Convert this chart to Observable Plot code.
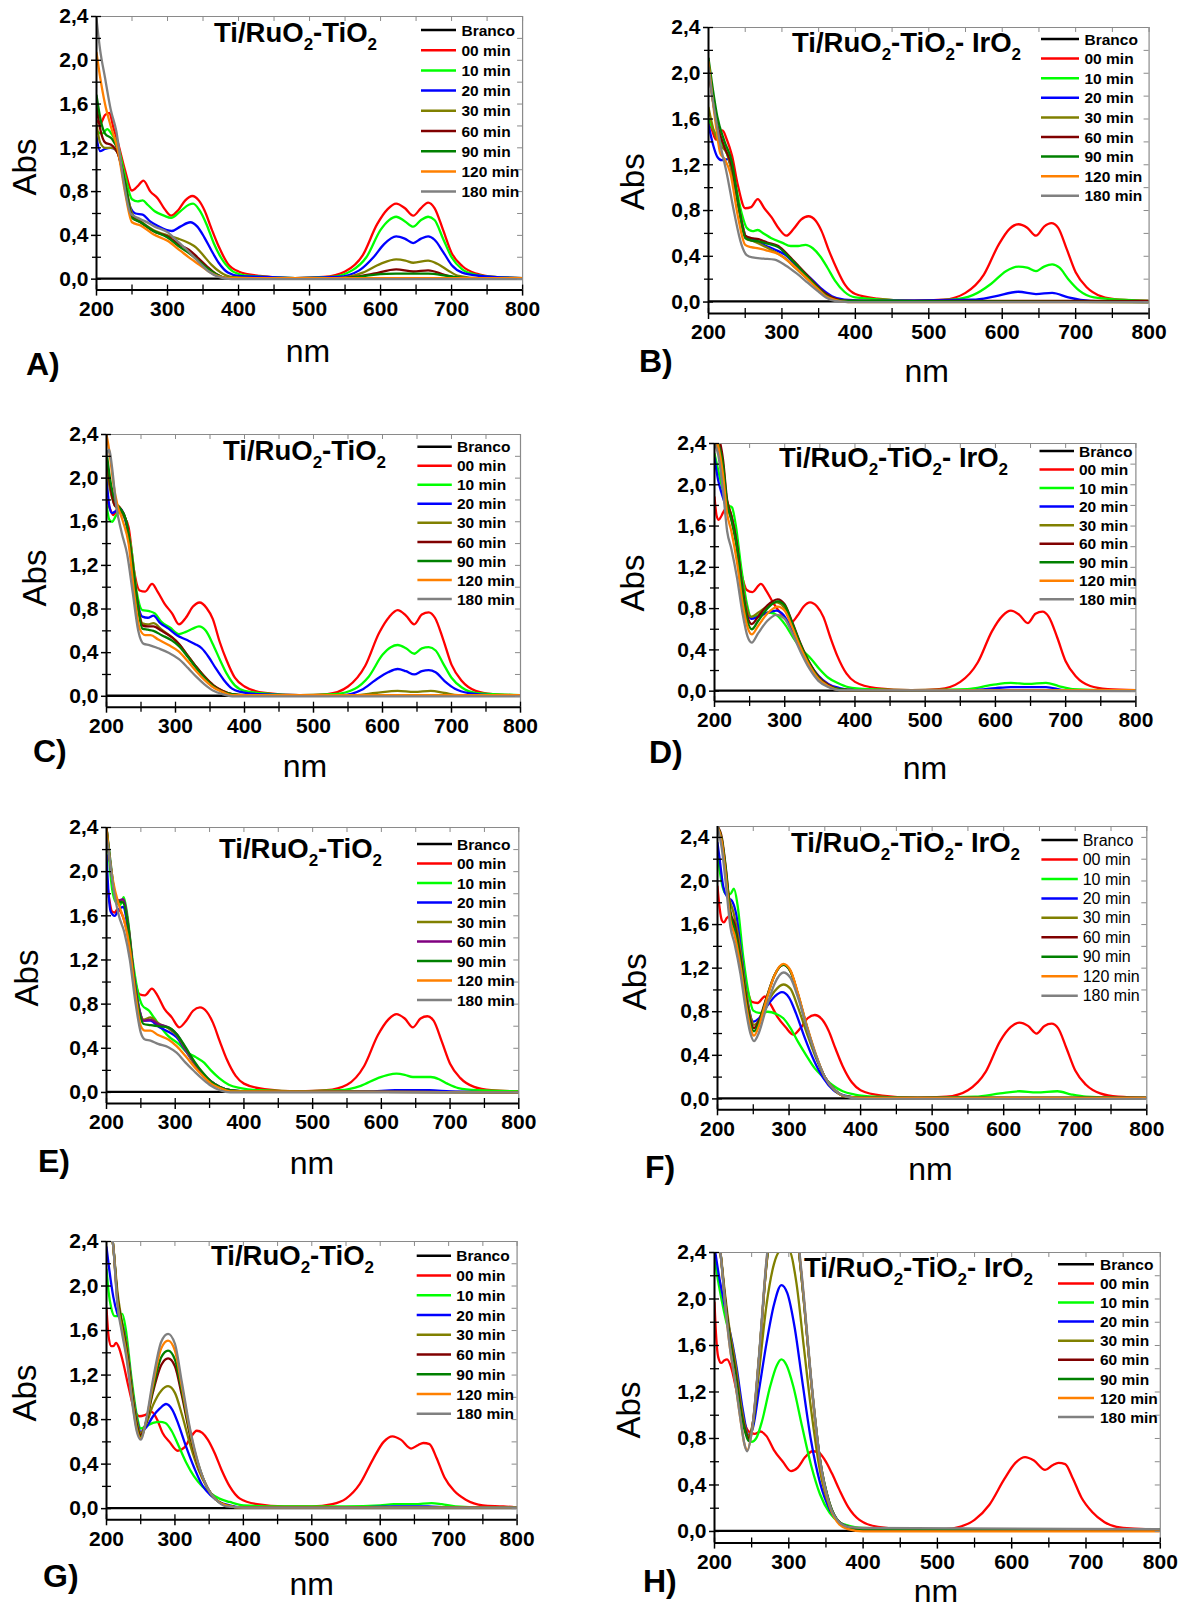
<!DOCTYPE html>
<html><head><meta charset="utf-8">
<script src="https://cdn.jsdelivr.net/npm/d3@7"></script>
<script src="https://cdn.jsdelivr.net/npm/@observablehq/plot@0.6"></script>
<style>
body{margin:0;background:#fff;}
#fig{position:relative;width:1189px;height:1607px;background:#fff;overflow:hidden;font-family:"Liberation Sans",Arial,sans-serif;}
#fig svg.panel{position:absolute;}
#overlay{position:absolute;left:0;top:0;}
</style></head><body><div id="fig"></div>
<script>
// ---------- labels ----------
const SERIES = ["Branco","00 min","10 min","20 min","30 min","60 min","90 min","120 min","180 min"];
const X_MAJOR = [200,300,400,500,600,700,800];
const X_MINOR = [250,350,450,550,650,750];
const Y_MAJOR = [0,0.4,0.8,1.2,1.6,2.0,2.4];
const Y_MINOR = [0.2,0.6,1.0,1.4,1.8,2.2];
const TITLE_1 = [["Ti/RuO",0],["2",1],["-TiO",0],["2",1]];
const TITLE_2 = [["Ti/RuO",0],["2",1],["-TiO",0],["2",1],["- IrO",0],["2",1]];

// ---------- data: [nm, Abs] ----------
const BRANCO = [[200,0.005],[800,0.005]];

const A00 = [[200,1.45],[205,1.42],[212,1.5],[218,1.52],[224,1.38],[230,1.25],[240,1.0],[250,0.81],[258,0.85],[266,0.9],[276,0.8],[286,0.74],[296,0.64],[305,0.58],[315,0.63],[325,0.72],[335,0.76],[344,0.72],[352,0.63],[362,0.46],[372,0.3],[385,0.14],[400,0.07],[430,0.03],[480,0.01],[520,0.02],[550,0.07],[575,0.22],[595,0.5],[610,0.64],[622,0.69],[634,0.65],[646,0.58],[657,0.65],[667,0.7],[676,0.65],[688,0.45],[700,0.24],[715,0.12],[735,0.05],[760,0.02],[800,0.01]];
const A10 = [[200,1.35],[208,1.33],[215,1.37],[222,1.32],[230,1.22],[240,0.95],[250,0.73],[258,0.71],[265,0.72],[272,0.68],[282,0.62],[295,0.58],[305,0.56],[318,0.62],[330,0.68],[336,0.69],[345,0.63],[355,0.5],[365,0.33],[375,0.2],[390,0.08],[405,0.04],[440,0.02],[480,0.01],[530,0.02],[560,0.08],[580,0.2],[600,0.45],[612,0.54],[622,0.57],[634,0.53],[646,0.48],[657,0.54],[667,0.57],[676,0.54],[688,0.37],[700,0.2],[715,0.09],[735,0.04],[760,0.02],[800,0.01]];
const A20 = [[200,1.3],[205,1.17],[212,1.19],[220,1.2],[228,1.18],[238,0.95],[248,0.65],[255,0.6],[265,0.59],[275,0.53],[288,0.48],[298,0.45],[306,0.44],[318,0.48],[332,0.52],[342,0.48],[352,0.38],[362,0.26],[372,0.15],[385,0.06],[400,0.03],[440,0.02],[480,0.01],[540,0.02],[570,0.08],[590,0.2],[605,0.32],[622,0.39],[634,0.37],[646,0.33],[657,0.37],[667,0.39],[676,0.36],[688,0.25],[700,0.13],[715,0.06],[740,0.03],[800,0.01]];
const A30 = [[200,1.42],[205,1.25],[212,1.2],[222,1.2],[230,1.15],[240,0.9],[250,0.6],[262,0.53],[280,0.45],[300,0.4],[315,0.37],[330,0.33],[340,0.29],[350,0.22],[362,0.13],[375,0.06],[390,0.02],[420,0.01],[540,0.01],[575,0.06],[600,0.14],[622,0.18],[635,0.17],[646,0.15],[667,0.17],[680,0.14],[695,0.08],[710,0.03],[740,0.01],[800,0.01]];
const A60 = [[200,1.58],[206,1.35],[212,1.25],[222,1.22],[230,1.15],[240,0.88],[250,0.57],[262,0.52],[280,0.44],[300,0.39],[318,0.31],[330,0.27],[342,0.2],[355,0.12],[368,0.05],[385,0.01],[550,0.01],[590,0.05],[622,0.09],[646,0.07],[667,0.08],[690,0.04],[710,0.01],[800,0.01]];
const A90 = [[200,1.68],[206,1.45],[212,1.33],[222,1.28],[230,1.18],[240,0.88],[250,0.56],[262,0.52],[280,0.44],[300,0.38],[318,0.29],[332,0.23],[345,0.16],[358,0.09],[370,0.04],[385,0.01],[550,0.01],[590,0.04],[622,0.05],[667,0.05],[695,0.03],[720,0.01],[800,0.01]];
const A120 = [[200,2.07],[205,1.85],[212,1.6],[220,1.4],[230,1.18],[240,0.8],[250,0.52],[262,0.49],[280,0.41],[300,0.35],[318,0.26],[332,0.19],[345,0.13],[358,0.07],[370,0.03],[385,0.01],[800,0.01]];
const A180 = [[200,2.38],[205,2.1],[212,1.84],[220,1.55],[228,1.35],[238,0.9],[248,0.6],[258,0.56],[268,0.53],[282,0.48],[300,0.43],[315,0.34],[330,0.25],[345,0.15],[358,0.07],[372,0.02],[390,0.0],[800,0.0]];

const B00 = [[200,1.6],[205,1.5],[210,1.42],[215,1.48],[219,1.5],[225,1.42],[232,1.28],[240,1.02],[250,0.82],[258,0.83],[267,0.9],[276,0.82],[286,0.74],[296,0.64],[306,0.58],[316,0.64],[326,0.72],[336,0.75],[346,0.71],[354,0.62],[364,0.45],[374,0.3],[386,0.15],[400,0.07],[430,0.03],[480,0.01],[520,0.02],[550,0.08],[575,0.24],[595,0.5],[610,0.64],[622,0.68],[634,0.65],[646,0.58],[657,0.66],[667,0.69],[676,0.65],[688,0.46],[700,0.26],[715,0.13],[735,0.05],[760,0.02],[800,0.01]];
const B10 = [[200,1.6],[207,1.5],[215,1.42],[225,1.3],[235,1.08],[245,0.78],[252,0.65],[260,0.62],[267,0.63],[275,0.6],[285,0.56],[300,0.52],[312,0.49],[322,0.49],[332,0.5],[342,0.47],[352,0.4],[362,0.3],[372,0.19],[385,0.09],[400,0.04],[440,0.02],[480,0.01],[530,0.02],[560,0.06],[585,0.16],[605,0.27],[622,0.31],[634,0.3],[646,0.27],[657,0.31],[668,0.33],[678,0.3],[690,0.2],[705,0.1],[725,0.04],[760,0.02],[800,0.01]];
const B20 = [[200,1.55],[206,1.38],[212,1.27],[218,1.24],[226,1.25],[236,1.0],[246,0.68],[252,0.56],[262,0.55],[275,0.5],[290,0.46],[305,0.41],[318,0.33],[330,0.26],[342,0.19],[355,0.11],[368,0.05],[385,0.02],[420,0.01],[560,0.02],[590,0.05],[622,0.09],[646,0.07],[668,0.08],[690,0.04],[720,0.01],[800,0.0]];
const B30 = [[200,1.7],[207,1.5],[215,1.38],[225,1.3],[236,1.02],[246,0.68],[252,0.55],[262,0.53],[275,0.49],[290,0.44],[305,0.38],[318,0.3],[330,0.23],[342,0.16],[355,0.09],[368,0.04],[385,0.01],[800,0.0]];
const B60 = [[200,2.05],[205,1.8],[212,1.55],[222,1.35],[232,1.18],[242,0.8],[250,0.58],[258,0.56],[268,0.55],[280,0.52],[295,0.49],[310,0.4],[322,0.32],[335,0.23],[348,0.14],[360,0.07],[372,0.03],[390,0.01],[800,0.01]];
const B90 = [[200,2.13],[205,1.9],[212,1.62],[222,1.4],[232,1.22],[242,0.8],[250,0.56],[258,0.54],[268,0.53],[280,0.51],[295,0.48],[310,0.39],[322,0.31],[335,0.22],[348,0.13],[360,0.06],[372,0.02],[390,0.01],[800,0.0]];
const B120 = [[200,2.1],[205,1.8],[210,1.55],[216,1.3],[222,1.25],[230,1.12],[240,0.75],[250,0.5],[258,0.48],[268,0.47],[280,0.45],[295,0.42],[310,0.35],[322,0.28],[335,0.2],[348,0.12],[360,0.05],[372,0.02],[390,0.0],[800,0.0]];
const B180 = [[200,2.05],[205,1.8],[210,1.6],[216,1.38],[225,1.12],[235,0.78],[245,0.5],[252,0.41],[260,0.39],[275,0.38],[290,0.37],[305,0.32],[320,0.25],[335,0.17],[348,0.1],[360,0.04],[372,0.01],[390,0.0],[800,0.0]];

const C00 = [[200,1.8],[205,1.72],[210,1.66],[214,1.7],[218,1.74],[224,1.66],[232,1.55],[240,1.15],[248,0.97],[256,0.96],[266,1.03],[274,0.96],[284,0.85],[295,0.76],[305,0.66],[315,0.72],[325,0.82],[335,0.86],[345,0.81],[354,0.71],[364,0.5],[374,0.33],[386,0.17],[400,0.09],[430,0.03],[480,0.01],[520,0.02],[550,0.09],[575,0.28],[595,0.58],[610,0.73],[622,0.79],[634,0.74],[646,0.66],[657,0.75],[667,0.77],[676,0.72],[688,0.52],[700,0.29],[715,0.14],[735,0.05],[760,0.02],[800,0.01]];
const C10 = [[200,1.76],[204,1.62],[208,1.6],[214,1.66],[220,1.7],[228,1.6],[236,1.35],[244,0.95],[252,0.79],[262,0.78],[270,0.76],[280,0.68],[292,0.63],[305,0.57],[315,0.59],[325,0.62],[334,0.64],[344,0.6],[354,0.48],[364,0.34],[374,0.21],[386,0.1],[400,0.05],[440,0.02],[480,0.01],[530,0.02],[560,0.07],[580,0.18],[600,0.38],[612,0.45],[622,0.47],[634,0.44],[646,0.39],[657,0.44],[667,0.45],[677,0.42],[688,0.3],[700,0.17],[715,0.08],[735,0.03],[760,0.02],[800,0.01]];
const C20 = [[200,2.0],[204,1.75],[208,1.68],[214,1.7],[220,1.72],[228,1.6],[236,1.3],[244,0.9],[252,0.73],[260,0.72],[268,0.74],[278,0.67],[290,0.62],[302,0.56],[315,0.52],[328,0.48],[338,0.44],[348,0.36],[358,0.26],[370,0.15],[382,0.07],[395,0.04],[420,0.02],[480,0.01],[540,0.01],[570,0.06],[590,0.15],[608,0.22],[622,0.25],[634,0.23],[646,0.2],[657,0.23],[667,0.24],[677,0.22],[690,0.14],[705,0.07],[725,0.03],[760,0.01],[800,0.01]];
const C30 = [[200,2.1],[205,1.9],[212,1.75],[220,1.7],[228,1.62],[236,1.3],[244,0.9],[252,0.67],[260,0.66],[268,0.67],[280,0.61],[295,0.54],[305,0.48],[318,0.37],[330,0.27],[342,0.18],[355,0.1],[368,0.05],[382,0.02],[400,0.01],[560,0.01],[590,0.03],[622,0.05],[646,0.04],[670,0.05],[690,0.03],[710,0.01],[800,0.01]];
const C60 = [[200,2.2],[205,1.95],[212,1.75],[220,1.72],[228,1.62],[236,1.3],[244,0.9],[252,0.65],[260,0.64],[268,0.64],[280,0.6],[295,0.54],[305,0.48],[318,0.37],[330,0.27],[342,0.18],[355,0.1],[368,0.05],[382,0.02],[400,0.01],[800,0.01]];
const C90 = [[200,2.25],[205,2.0],[212,1.8],[220,1.72],[228,1.62],[236,1.28],[244,0.88],[252,0.62],[260,0.61],[268,0.6],[280,0.56],[295,0.51],[305,0.46],[318,0.36],[330,0.26],[342,0.17],[355,0.09],[368,0.04],[382,0.02],[400,0.01],[800,0.01]];
const C120 = [[200,2.4],[204,2.25],[210,1.95],[216,1.75],[224,1.6],[232,1.4],[240,0.95],[248,0.62],[256,0.56],[264,0.56],[275,0.52],[290,0.47],[305,0.41],[318,0.32],[330,0.23],[342,0.15],[355,0.08],[368,0.04],[382,0.01],[800,0.01]];
const C180 = [[200,2.2],[204,2.26],[208,2.1],[214,1.75],[222,1.5],[230,1.3],[238,0.95],[246,0.6],[254,0.48],[262,0.47],[275,0.44],[290,0.4],[305,0.34],[318,0.26],[330,0.18],[342,0.11],[355,0.05],[368,0.02],[382,0.0],[800,0.0]];

const D00 = [[200,1.88],[203,1.7],[206,1.66],[210,1.7],[215,1.76],[220,1.74],[228,1.55],[238,1.15],[246,0.98],[254,0.96],[266,1.04],[274,0.97],[284,0.85],[296,0.74],[308,0.66],[318,0.73],[327,0.82],[336,0.86],[346,0.82],[355,0.72],[365,0.52],[375,0.34],[388,0.17],[400,0.09],[430,0.03],[480,0.01],[520,0.02],[550,0.09],[575,0.28],[595,0.58],[610,0.73],[622,0.78],[634,0.74],[646,0.66],[657,0.75],[667,0.77],[676,0.72],[688,0.52],[700,0.29],[715,0.14],[735,0.05],[760,0.02],[800,0.01]];
const D10 = [[200,2.3],[205,2.15],[210,2.0],[215,1.87],[220,1.8],[225,1.78],[230,1.62],[238,1.2],[246,0.85],[252,0.72],[260,0.73],[270,0.76],[280,0.76],[290,0.73],[300,0.65],[312,0.52],[325,0.4],[338,0.31],[350,0.21],[362,0.13],[375,0.08],[390,0.04],[420,0.02],[480,0.01],[560,0.02],[595,0.06],[622,0.08],[646,0.07],[672,0.08],[690,0.05],[710,0.02],[760,0.01],[800,0.01]];
const D20 = [[200,2.26],[205,2.05],[210,1.92],[216,1.8],[222,1.74],[230,1.5],[238,1.1],[246,0.8],[252,0.7],[262,0.72],[275,0.76],[288,0.78],[298,0.74],[310,0.6],[322,0.43],[335,0.27],[348,0.15],[362,0.07],[378,0.03],[400,0.01],[570,0.01],[600,0.03],[622,0.04],[672,0.04],[700,0.01],[800,0.01]];
const D30 = [[200,2.4],[205,2.35],[210,2.2],[216,1.9],[222,1.75],[230,1.5],[238,1.1],[246,0.8],[252,0.72],[262,0.76],[275,0.82],[288,0.86],[298,0.82],[310,0.64],[322,0.45],[335,0.27],[348,0.14],[362,0.06],[378,0.02],[400,0.01],[800,0.01]];
const D60 = [[200,2.5],[206,2.45],[212,2.25],[218,1.85],[224,1.7],[232,1.42],[240,0.98],[247,0.72],[253,0.65],[262,0.72],[275,0.83],[290,0.89],[300,0.84],[310,0.68],[322,0.47],[335,0.28],[348,0.14],[362,0.06],[378,0.02],[400,0.01],[800,0.01]];
const D90 = [[200,2.45],[205,2.4],[212,2.2],[218,1.82],[224,1.66],[232,1.38],[240,0.95],[247,0.68],[253,0.6],[262,0.68],[275,0.8],[290,0.87],[300,0.83],[310,0.67],[322,0.46],[335,0.27],[348,0.13],[362,0.05],[378,0.02],[400,0.01],[800,0.01]];
const D120 = [[200,2.45],[205,2.38],[212,2.1],[218,1.72],[224,1.55],[232,1.25],[240,0.85],[247,0.62],[253,0.55],[262,0.63],[275,0.75],[290,0.82],[300,0.78],[310,0.63],[322,0.43],[335,0.25],[348,0.12],[362,0.05],[378,0.01],[400,0.01],[800,0.01]];
const D180 = [[200,2.4],[205,2.3],[212,1.95],[218,1.55],[224,1.38],[232,1.1],[240,0.75],[247,0.53],[253,0.47],[262,0.56],[275,0.68],[288,0.74],[300,0.7],[310,0.57],[322,0.39],[335,0.22],[348,0.1],[362,0.04],[378,0.01],[800,0.0]];

const E00 = [[200,1.95],[204,1.75],[208,1.64],[212,1.63],[216,1.66],[222,1.62],[230,1.45],[240,1.05],[248,0.89],[256,0.88],[266,0.94],[274,0.88],[284,0.76],[295,0.68],[306,0.59],[316,0.65],[326,0.74],[336,0.77],[346,0.73],[355,0.63],[365,0.46],[375,0.3],[388,0.15],[400,0.08],[430,0.03],[480,0.01],[520,0.02],[550,0.07],[575,0.24],[595,0.52],[610,0.66],[622,0.71],[634,0.67],[646,0.59],[657,0.67],[667,0.69],[676,0.65],[688,0.46],[700,0.26],[715,0.13],[735,0.05],[760,0.02],[800,0.01]];
const E10 = [[200,2.4],[204,2.1],[208,1.85],[214,1.72],[220,1.7],[225,1.77],[230,1.62],[238,1.2],[246,0.9],[252,0.79],[262,0.74],[270,0.67],[278,0.6],[290,0.51],[305,0.44],[318,0.36],[330,0.32],[342,0.27],[352,0.2],[364,0.13],[378,0.07],[395,0.04],[420,0.02],[480,0.01],[540,0.02],[570,0.06],[595,0.13],[610,0.16],[622,0.17],[634,0.16],[646,0.14],[660,0.14],[672,0.14],[684,0.12],[696,0.08],[712,0.04],[740,0.02],[800,0.01]];
const E20 = [[200,2.15],[203,1.8],[206,1.64],[212,1.6],[218,1.66],[224,1.68],[232,1.45],[240,1.05],[248,0.75],[254,0.65],[264,0.65],[275,0.6],[290,0.55],[302,0.5],[315,0.38],[328,0.26],[340,0.17],[352,0.1],[365,0.05],[380,0.02],[400,0.01],[580,0.01],[620,0.02],[670,0.02],[700,0.01],[800,0.0]];
const E30 = [[200,2.4],[206,2.05],[212,1.8],[218,1.72],[224,1.73],[232,1.5],[240,1.05],[248,0.74],[254,0.66],[264,0.68],[275,0.63],[290,0.58],[302,0.52],[315,0.39],[328,0.26],[340,0.17],[352,0.1],[365,0.05],[380,0.02],[400,0.01],[800,0.0]];
const E60 = [[200,2.4],[206,2.05],[212,1.8],[218,1.74],[224,1.75],[232,1.5],[240,1.05],[248,0.74],[254,0.65],[264,0.66],[275,0.62],[290,0.59],[302,0.53],[315,0.4],[328,0.27],[340,0.17],[352,0.1],[365,0.05],[380,0.02],[400,0.01],[800,0.0]];
const E90 = [[200,2.4],[206,2.08],[212,1.8],[218,1.73],[224,1.72],[232,1.48],[240,1.02],[248,0.72],[254,0.62],[264,0.61],[275,0.6],[290,0.59],[302,0.53],[315,0.41],[328,0.28],[340,0.18],[352,0.1],[365,0.05],[380,0.02],[400,0.01],[800,0.0]];
const E120 = [[200,2.4],[204,2.15],[210,1.9],[218,1.7],[226,1.55],[234,1.3],[242,0.9],[250,0.6],[256,0.56],[264,0.56],[275,0.52],[290,0.48],[302,0.42],[315,0.33],[328,0.23],[340,0.15],[352,0.08],[365,0.04],[380,0.01],[800,0.0]];
const E180 = [[200,2.3],[204,2.15],[210,1.85],[218,1.6],[226,1.45],[234,1.2],[242,0.82],[250,0.54],[256,0.48],[264,0.47],[275,0.44],[290,0.41],[302,0.36],[315,0.27],[328,0.19],[340,0.12],[352,0.06],[365,0.02],[380,0.0],[800,0.0]];

const F00 = [[200,1.95],[203,1.75],[206,1.64],[209,1.62],[213,1.66],[217,1.68],[222,1.6],[230,1.4],[240,1.05],[248,0.89],[256,0.88],[266,0.94],[274,0.87],[284,0.75],[295,0.66],[306,0.59],[316,0.65],[326,0.74],[336,0.77],[346,0.73],[355,0.63],[365,0.46],[375,0.3],[388,0.15],[400,0.08],[430,0.03],[480,0.01],[520,0.02],[550,0.08],[575,0.25],[595,0.53],[610,0.66],[622,0.7],[634,0.67],[646,0.6],[657,0.67],[667,0.69],[676,0.65],[688,0.46],[700,0.26],[715,0.13],[735,0.05],[760,0.02],[800,0.01]];
const F10 = [[200,2.28],[203,2.1],[207,1.95],[212,1.88],[218,1.88],[223,1.93],[228,1.78],[236,1.3],[244,0.95],[250,0.81],[258,0.79],[270,0.8],[282,0.78],[292,0.74],[302,0.65],[312,0.53],[324,0.4],[336,0.28],[348,0.2],[360,0.13],[375,0.07],[392,0.04],[420,0.02],[480,0.01],[560,0.02],[595,0.05],[622,0.07],[646,0.06],[675,0.07],[695,0.04],[715,0.02],[760,0.01],[800,0.01]];
const F20 = [[200,2.35],[203,2.2],[208,1.95],[214,1.85],[220,1.82],[226,1.7],[234,1.3],[242,0.9],[250,0.71],[258,0.74],[268,0.84],[280,0.94],[290,0.98],[300,0.93],[310,0.78],[322,0.56],[335,0.35],[348,0.19],[362,0.08],[378,0.03],[400,0.01],[800,0.01]];
const F30 = [[200,2.5],[205,2.4],[210,2.15],[216,1.85],[222,1.72],[230,1.45],[240,0.98],[246,0.76],[251,0.68],[258,0.72],[268,0.86],[280,0.99],[292,1.05],[302,1.01],[312,0.85],[325,0.6],[338,0.37],[350,0.2],[364,0.08],[380,0.02],[400,0.01],[800,0.01]];
const F60 = [[200,2.5],[206,2.4],[212,2.1],[218,1.72],[224,1.6],[232,1.3],[240,0.93],[246,0.72],[251,0.65],[258,0.72],[268,0.92],[280,1.14],[292,1.23],[302,1.17],[312,0.97],[325,0.66],[338,0.39],[350,0.2],[364,0.08],[380,0.02],[400,0.01],[800,0.01]];
const F90 = [[200,2.5],[206,2.38],[212,2.08],[218,1.7],[224,1.56],[232,1.27],[240,0.9],[246,0.69],[251,0.62],[258,0.7],[268,0.91],[280,1.14],[292,1.23],[302,1.17],[312,0.97],[325,0.66],[338,0.39],[350,0.2],[364,0.08],[380,0.02],[400,0.01],[800,0.01]];
const F120 = [[200,2.5],[206,2.36],[212,2.02],[218,1.64],[224,1.5],[232,1.22],[240,0.86],[246,0.65],[251,0.58],[258,0.67],[268,0.9],[280,1.14],[292,1.24],[302,1.18],[312,0.98],[325,0.67],[338,0.4],[350,0.2],[364,0.08],[380,0.02],[400,0.01],[800,0.01]];
const F180 = [[200,2.5],[206,2.3],[212,1.95],[218,1.58],[224,1.42],[232,1.15],[240,0.8],[246,0.6],[251,0.53],[258,0.61],[268,0.83],[280,1.06],[292,1.16],[302,1.11],[312,0.94],[325,0.65],[338,0.39],[350,0.2],[364,0.08],[380,0.02],[400,0.0],[800,0.0]];

const G00 = [[200,1.8],[203,1.55],[207,1.46],[210,1.46],[214,1.49],[218,1.45],[224,1.32],[232,1.1],[240,0.9],[248,0.83],[256,0.84],[266,0.87],[274,0.8],[282,0.68],[292,0.6],[304,0.52],[314,0.55],[322,0.63],[332,0.7],[340,0.68],[348,0.62],[358,0.5],[368,0.35],[380,0.2],[395,0.09],[420,0.04],[460,0.02],[500,0.02],[530,0.04],[550,0.09],[570,0.22],[590,0.45],[605,0.6],[618,0.65],[630,0.62],[645,0.54],[655,0.57],[663,0.59],[672,0.58],[682,0.46],[694,0.28],[708,0.16],[725,0.08],[750,0.03],[780,0.02],[800,0.01]];
const G10 = [[200,2.15],[203,1.95],[207,1.8],[212,1.73],[218,1.73],[223,1.75],[228,1.62],[236,1.2],[244,0.85],[250,0.72],[258,0.74],[268,0.77],[278,0.78],[286,0.77],[295,0.7],[305,0.57],[316,0.42],[328,0.29],[340,0.2],[352,0.14],[365,0.09],[380,0.06],[400,0.03],[450,0.02],[550,0.02],[600,0.03],[620,0.04],[650,0.04],[675,0.05],[690,0.04],[710,0.02],[750,0.01],[800,0.01]];
const G20 = [[200,2.35],[204,2.15],[210,1.9],[216,1.75],[222,1.68],[230,1.45],[238,1.05],[245,0.78],[250,0.69],[258,0.73],[268,0.83],[278,0.9],[287,0.94],[296,0.89],[305,0.76],[315,0.58],[328,0.37],[340,0.21],[352,0.12],[365,0.06],[380,0.03],[400,0.01],[560,0.01],[620,0.02],[670,0.02],[700,0.01],[800,0.01]];
const G30 = [[200,2.7],[210,2.35],[216,1.95],[222,1.7],[230,1.45],[238,1.05],[244,0.8],[250,0.68],[258,0.76],[268,0.93],[280,1.06],[290,1.1],[300,1.04],[310,0.85],[322,0.58],[335,0.34],[348,0.18],[360,0.08],[375,0.03],[400,0.01],[800,0.01]];
const G60 = [[200,2.7],[210,2.35],[216,1.9],[222,1.68],[230,1.4],[238,1.0],[244,0.76],[250,0.66],[258,0.78],[268,1.05],[280,1.29],[290,1.35],[300,1.28],[310,1.02],[322,0.66],[335,0.37],[348,0.18],[360,0.08],[375,0.03],[400,0.01],[800,0.01]];
const G90 = [[200,2.7],[210,2.35],[216,1.88],[222,1.66],[230,1.38],[238,0.98],[244,0.74],[250,0.64],[258,0.78],[268,1.08],[280,1.36],[290,1.42],[300,1.34],[310,1.06],[322,0.68],[335,0.38],[348,0.18],[360,0.08],[375,0.03],[400,0.01],[800,0.01]];
const G120 = [[200,2.7],[210,2.35],[216,1.85],[222,1.63],[230,1.35],[238,0.95],[244,0.72],[250,0.63],[258,0.79],[268,1.12],[280,1.44],[290,1.51],[300,1.42],[310,1.1],[322,0.7],[335,0.38],[348,0.18],[360,0.08],[375,0.03],[400,0.01],[800,0.01]];
const G180 = [[200,2.7],[210,2.35],[216,1.83],[222,1.6],[230,1.32],[238,0.93],[244,0.7],[250,0.62],[258,0.8],[268,1.16],[280,1.5],[290,1.57],[300,1.48],[310,1.14],[322,0.72],[335,0.39],[348,0.18],[360,0.08],[375,0.02],[400,0.01],[800,0.01]];

const H00 = [[200,1.97],[202,1.7],[205,1.5],[209,1.45],[213,1.47],[217,1.48],[222,1.42],[230,1.2],[238,0.98],[246,0.86],[254,0.84],[262,0.86],[270,0.82],[280,0.7],[292,0.6],[303,0.52],[312,0.55],[322,0.64],[332,0.69],[340,0.68],[348,0.62],[358,0.5],[368,0.36],[380,0.21],[395,0.1],[420,0.04],[460,0.02],[510,0.02],[530,0.04],[550,0.1],[570,0.23],[590,0.45],[605,0.59],[618,0.64],[630,0.61],[645,0.53],[655,0.57],[663,0.59],[672,0.58],[682,0.46],[694,0.29],[708,0.17],[725,0.08],[750,0.03],[780,0.02],[800,0.02]];
const H10 = [[200,2.35],[205,2.15],[210,1.98],[216,1.8],[222,1.66],[230,1.3],[238,0.98],[245,0.82],[250,0.77],[256,0.8],[264,0.95],[275,1.25],[284,1.43],[290,1.48],[297,1.43],[306,1.25],[318,0.9],[330,0.57],[342,0.32],[355,0.16],[368,0.08],[380,0.05],[400,0.03],[450,0.02],[800,0.02]];
const H20 = [[200,2.45],[206,2.2],[212,2.0],[218,1.8],[224,1.62],[230,1.4],[238,1.05],[246,0.83],[252,0.9],[260,1.22],[270,1.62],[280,1.95],[290,2.12],[298,2.05],[308,1.75],[318,1.3],[330,0.78],[342,0.42],[355,0.19],[368,0.08],[380,0.04],[400,0.02],[800,0.02]];
const H30 = [[200,2.6],[208,2.4],[214,2.05],[220,1.75],[228,1.45],[236,1.08],[242,0.88],[246,0.82],[252,0.95],[260,1.38],[270,1.95],[280,2.3],[290,2.42],[300,2.42],[310,2.15],[320,1.6],[330,1.05],[342,0.52],[355,0.21],[368,0.08],[380,0.04],[400,0.02],[800,0.02]];
const H60 = [[200,2.7],[208,2.4],[214,2.02],[220,1.7],[228,1.38],[236,1.02],[242,0.86],[246,0.8],[252,0.95],[260,1.5],[270,2.3],[280,2.75],[290,2.9],[300,2.85],[310,2.6],[320,2.0],[330,1.3],[342,0.62],[355,0.24],[368,0.08],[380,0.04],[400,0.02],[800,0.02]];
const H90 = [[200,2.7],[208,2.4],[214,2.0],[220,1.68],[228,1.35],[236,1.0],[242,0.84],[246,0.78],[252,0.93],[260,1.5],[270,2.3],[280,2.75],[290,2.9],[300,2.85],[310,2.6],[320,2.0],[330,1.3],[342,0.62],[355,0.24],[368,0.08],[380,0.04],[400,0.02],[800,0.02]];
const H120 = [[200,2.7],[208,2.4],[214,1.98],[220,1.62],[228,1.28],[236,0.92],[240,0.76],[244,0.7],[250,0.85],[260,1.5],[270,2.32],[280,2.78],[290,2.92],[300,2.88],[310,2.62],[320,2.02],[330,1.3],[342,0.6],[355,0.22],[368,0.06],[380,0.02],[400,0.0],[800,0.0]];
const H180 = [[200,2.7],[208,2.4],[214,1.98],[220,1.62],[228,1.28],[236,0.92],[240,0.76],[244,0.69],[250,0.85],[260,1.52],[270,2.34],[280,2.8],[290,2.95],[300,2.9],[310,2.64],[320,2.04],[330,1.32],[342,0.62],[355,0.23],[368,0.08],[380,0.04],[400,0.03],[800,0.02]];

// ---------- styles ----------
const COLORS = ["#000000","#ff0000","#00ff00","#0000ff","#808000","#800000","#008000","#ff8000","#808080"];
const COLORS_E = ["#000000","#ff0000","#00ff00","#0000ff","#808000","#800080","#008000","#ff8000","#808080"];
const FONT = '"Liberation Sans", Arial, Helvetica, sans-serif';

// ---------- layout (pixel geometry) ----------
const panels = [
 {L:"A)", data:[BRANCO,A00,A10,A20,A30,A60,A90,A120,A180], colors:COLORS, title:TITLE_1,
  x0:95.7,x1:521.8,yTop:15.7,yBot:289.3,yMax:2.4, tx:214,ty:41.7,
  lx0:421,lx1:456,ltx:461.5,ly0:30,ldy:20.2,lbold:true,
  abs:[24,167], nm:[308,353], let:[26,365]},
 {L:"B)", data:[BRANCO,B00,B10,B20,B30,B60,B90,B120,B180], colors:COLORS, title:TITLE_2,
  x0:707.8,x1:1148.4,yTop:26.7,yBot:312.7,yMax:2.4, tx:792,ty:51.7,
  lx0:1041,lx1:1079,ltx:1084.5,ly0:39,ldy:19.6,lbold:true,
  abs:[632,181.7], nm:[926.8,373], let:[639,361.7]},
 {L:"C)", data:[BRANCO,C00,C10,C20,C30,C60,C90,C120,C180], colors:COLORS, title:TITLE_1,
  x0:106,x1:520,yTop:434,yBot:706.7,yMax:2.4, tx:223,ty:460,
  lx0:417.4,lx1:451.8,ltx:457,ly0:446.7,ldy:19.04,lbold:true,
  abs:[34.4,578], nm:[305,768], let:[33,751.7]},
 {L:"D)", data:[BRANCO,D00,D10,D20,D30,D60,D90,D120,D180], colors:COLORS, title:TITLE_2,
  x0:713.8,x1:1135.2,yTop:442.7,yBot:700.7,yMax:2.4, tx:779,ty:466.7,
  lx0:1039.5,lx1:1074,ltx:1079,ly0:451,ldy:18.54,lbold:true,
  abs:[632,583], nm:[925,770], let:[649,753]},
 {L:"E)", data:[BRANCO,E00,E10,E20,E30,E60,E90,E120,E180], colors:COLORS_E, title:TITLE_1,
  x0:106,x1:518.3,yTop:826.7,yBot:1102.7,yMax:2.4, tx:219,ty:858.3,
  lx0:417,lx1:452,ltx:457,ly0:844,ldy:19.5,lbold:true,
  abs:[26,978], nm:[312,1165], let:[38,1161.7]},
 {L:"F)", data:[BRANCO,F00,F10,F20,F30,F60,F90,F120,F180], colors:COLORS, title:TITLE_2,
  x0:717.2,x1:1146.5,yTop:826,yBot:1109.3,yMax:2.5, tx:791,ty:851.7,
  lx0:1041.4,lx1:1077.8,ltx:1082.7,ly0:840,ldy:19.46,lbold:false,
  abs:[633.8,981.7], nm:[930.5,1171.7], let:[645,1168]},
 {L:"G)", data:[BRANCO,G00,G10,G20,G30,G60,G90,G120,G180], colors:COLORS, title:TITLE_1,
  x0:106,x1:516.6,yTop:1240.7,yBot:1519,yMax:2.4, tx:211,ty:1265,
  lx0:416.7,lx1:451,ltx:456.3,ly0:1255.7,ldy:19.75,lbold:true,
  abs:[24,1393], nm:[311.7,1586], let:[43,1576.7]},
 {L:"H)", data:[BRANCO,H00,H10,H20,H30,H60,H90,H120,H180], colors:COLORS, title:TITLE_2,
  x0:713.8,x1:1159.6,yTop:1251.7,yBot:1542.3,yMax:2.4, tx:804,ty:1276.7,
  lx0:1058,lx1:1094,ltx:1100,ly0:1264.3,ldy:19.1,lbold:true,
  abs:[628,1410], nm:[936,1593], let:[643,1581.7]}
];

const ML = 70, MR = 14, MT = 10, MB = 45;
const fig = document.getElementById("fig");
const yFmt = d => d.toFixed(1).replace(".", ",");

panels.forEach(p => {
  const w = p.x1 - p.x0, h = p.yBot - p.yTop;
  const yMin = -0.1;
  const pxY = h / (p.yMax - yMin);      // px per Abs unit
  const pxX = w / 600;                  // px per nm
  const inY = 5 / pxY, inX = 5 / pxX;   // 5 px inward tick lengths in data units
  const marks = [];
  p.data.forEach((pts, i) => {
    marks.push(Plot.line(pts, {x: d => d[0], y: d => d[1], stroke: p.colors[i], strokeWidth: 2.3, curve: "monotone-x", clip: true}));
  });
  marks.push(
    // frame (top/right, grey with small inward ticks)
    Plot.ruleX([800], {stroke: "#8a8a8a", strokeWidth: 1.2}),
    Plot.ruleY([p.yMax], {stroke: "#8a8a8a", strokeWidth: 1.2}),
    Plot.ruleY(Y_MAJOR.concat(Y_MINOR), {x1: 800 - inX, x2: 800, stroke: "#8a8a8a", strokeWidth: 1}),
    Plot.ruleX(X_MAJOR.concat(X_MINOR), {y1: p.yMax - inY, y2: p.yMax, stroke: "#8a8a8a", strokeWidth: 1}),
    // inward halves of the crossing ticks on the main axes
    Plot.ruleY(Y_MAJOR.concat(Y_MINOR), {x1: 200, x2: 200 + inX, stroke: "#000", strokeWidth: 1.3}),
    Plot.ruleX(X_MAJOR.concat(X_MINOR), {y1: yMin, y2: yMin + inY, stroke: "#000", strokeWidth: 1.3}),
    // main axes
    Plot.ruleX([200], {stroke: "#000", strokeWidth: 2}),
    Plot.ruleY([yMin], {stroke: "#000", strokeWidth: 2}),
    Plot.axisX(X_MAJOR, {tickSize: 6, tickPadding: 5, tickFormat: d => String(d), fontSize: 21, fontWeight: "bold", strokeWidth: 1.5, label: null}),
    Plot.axisX(X_MINOR, {tickSize: 5, tickFormat: () => "", strokeWidth: 1.3, label: null}),
    Plot.axisY(Y_MAJOR, {tickSize: 5, tickPadding: 3, tickFormat: yFmt, fontSize: 21, fontWeight: "bold", strokeWidth: 1.5, label: null}),
    Plot.axisY(Y_MINOR, {tickSize: 4, tickFormat: () => "", strokeWidth: 1.3, label: null})
  );
  const svg = Plot.plot({
    width: w + ML + MR, height: h + MT + MB,
    marginLeft: ML, marginRight: MR, marginTop: MT, marginBottom: MB,
    x: {domain: [200, 800], axis: null},
    y: {domain: [yMin, p.yMax], axis: null},
    style: {background: "transparent", fontFamily: FONT, color: "#000", overflow: "visible"},
    marks
  });
  svg.classList.add("panel");
  svg.style.left = (p.x0 - ML) + "px";
  svg.style.top = (p.yTop - MT) + "px";
  fig.appendChild(svg);
});

// ---------- annotations ----------
const ov = d3.select(fig).append("svg").attr("id", "overlay")
  .attr("width", 1189).attr("height", 1607)
  .style("font-family", FONT);

panels.forEach(p => {
  // title with subscripts
  const t = ov.append("text").attr("x", p.tx).attr("y", p.ty)
    .attr("font-size", 27.5).attr("font-weight", "bold").attr("fill", "#000");
  let shifted = false;
  p.title.forEach(([s, sub]) => {
    const ts = t.append("tspan").text(s);
    if (sub) { ts.attr("font-size", 17); if (!shifted) { ts.attr("dy", 8); shifted = true; } }
    else if (shifted) { ts.attr("dy", -8); shifted = false; }
  });
  // legend
  SERIES.forEach((name, i) => {
    const y = p.ly0 + i * p.ldy;
    ov.append("line").attr("x1", p.lx0).attr("x2", p.lx1).attr("y1", y).attr("y2", y)
      .attr("stroke", p.colors[i]).attr("stroke-width", 2.5);
    ov.append("text").attr("x", p.ltx).attr("y", y + 5.6)
      .attr("font-size", p.lbold ? 15.5 : 16).attr("font-weight", p.lbold ? "bold" : "normal")
      .attr("fill", "#000").text(name);
  });
  // axis titles and panel letter
  ov.append("text").attr("transform", `translate(${p.abs[0] + 12},${p.abs[1]}) rotate(-90)`)
    .attr("text-anchor", "middle").attr("font-size", 33).attr("fill", "#000").text("Abs");
  ov.append("text").attr("x", p.nm[0]).attr("y", p.nm[1] + 8.5)
    .attr("text-anchor", "middle").attr("font-size", 32).attr("fill", "#000").text("nm");
  ov.append("text").attr("x", p.let[0]).attr("y", p.let[1] + 10)
    .attr("font-size", 32).attr("font-weight", "bold").attr("fill", "#000").text(p.L);
});
</script>
</body></html>
